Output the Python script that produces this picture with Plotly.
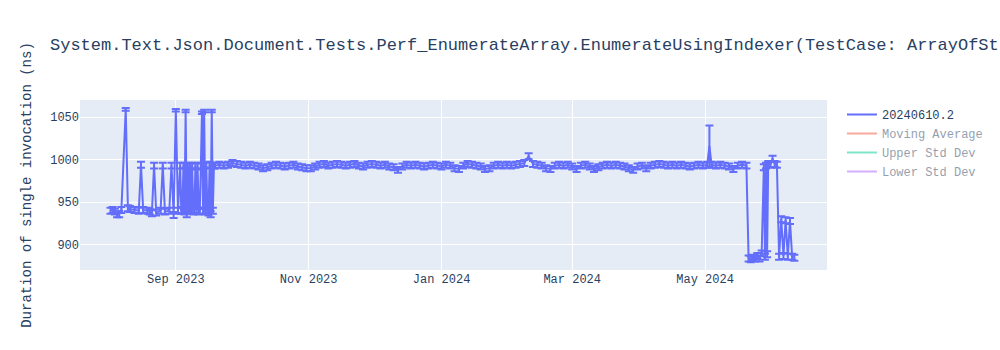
import plotly.graph_objects as go
import pandas as pd

# ---- data ----
early_dates = [
    "2023-08-02", "2023-08-03", "2023-08-04", "2023-08-05", "2023-08-06", "2023-08-07",
    "2023-08-09", "2023-08-10", "2023-08-11", "2023-08-13", "2023-08-15", "2023-08-16",
    "2023-08-17", "2023-08-19", "2023-08-20", "2023-08-21", "2023-08-22", "2023-08-23",
    "2023-08-25", "2023-08-26", "2023-08-27", "2023-08-29", "2023-08-30", "2023-08-31",
    "2023-09-01", "2023-09-02",
    "2023-09-03 00:00", "2023-09-03 12:00", "2023-09-04 00:00", "2023-09-04 12:00",
    "2023-09-05 00:00", "2023-09-05 12:00", "2023-09-06 00:00", "2023-09-06 12:00",
    "2023-09-07 00:00", "2023-09-07 12:00", "2023-09-08 00:00", "2023-09-08 12:00",
    "2023-09-09 00:00", "2023-09-09 12:00", "2023-09-10 00:00", "2023-09-10 12:00",
    "2023-09-11 00:00", "2023-09-11 12:00", "2023-09-12 00:00", "2023-09-12 12:00",
    "2023-09-13 00:00", "2023-09-13 12:00", "2023-09-14 00:00", "2023-09-14 12:00",
    "2023-09-15 00:00", "2023-09-15 12:00", "2023-09-16 00:00", "2023-09-16 12:00",
    "2023-09-17 00:00", "2023-09-17 12:00", "2023-09-18 00:00", "2023-09-18 12:00",
]
early_values = [
    940, 941, 939, 936, 936, 941,
    1059, 943, 942, 941, 940, 994,
    941, 940, 939, 937, 993, 938,
    940, 993, 939, 940, 993, 935,
    1058, 940,
    993, 940, 941, 993,
    939, 1057, 936, 993,
    940, 992, 941, 993,
    939, 940, 993, 941,
    992, 939, 940, 993,
    1055, 940, 1057, 939,
    993, 941, 938, 994,
    936, 1057, 940, 993,
]

mid_dates = [
    "2023-09-19", "2023-09-21", "2023-09-23", "2023-09-25", "2023-09-27", "2023-09-29",
    "2023-10-01", "2023-10-03", "2023-10-05", "2023-10-07", "2023-10-09", "2023-10-11",
    "2023-10-13", "2023-10-15", "2023-10-17", "2023-10-19", "2023-10-21", "2023-10-23",
    "2023-10-25", "2023-10-27", "2023-10-29", "2023-10-31",
    "2023-11-02", "2023-11-04", "2023-11-06", "2023-11-08", "2023-11-10", "2023-11-12",
    "2023-11-14", "2023-11-16", "2023-11-18", "2023-11-20", "2023-11-22", "2023-11-24",
    "2023-11-26", "2023-11-28", "2023-11-30",
    "2023-12-02", "2023-12-04", "2023-12-06", "2023-12-08", "2023-12-10", "2023-12-12",
    "2023-12-14", "2023-12-16", "2023-12-18", "2023-12-20", "2023-12-22", "2023-12-24",
    "2023-12-26", "2023-12-28", "2023-12-30",
    "2024-01-01", "2024-01-03", "2024-01-05", "2024-01-07", "2024-01-09", "2024-01-11",
    "2024-01-13", "2024-01-15", "2024-01-17", "2024-01-19", "2024-01-21", "2024-01-23",
    "2024-01-25", "2024-01-27", "2024-01-29", "2024-01-31",
    "2024-02-02", "2024-02-04", "2024-02-06", "2024-02-08", "2024-02-10", "2024-02-12",
    "2024-02-14", "2024-02-16", "2024-02-18", "2024-02-20", "2024-02-22", "2024-02-24",
    "2024-02-26", "2024-02-28",
    "2024-03-01", "2024-03-03", "2024-03-05", "2024-03-07", "2024-03-09", "2024-03-11",
    "2024-03-13", "2024-03-15", "2024-03-17", "2024-03-19", "2024-03-21", "2024-03-23",
    "2024-03-25", "2024-03-27", "2024-03-29", "2024-03-31",
    "2024-04-02", "2024-04-04", "2024-04-06", "2024-04-08", "2024-04-10", "2024-04-12",
    "2024-04-14", "2024-04-16", "2024-04-18", "2024-04-20", "2024-04-22", "2024-04-24",
    "2024-04-26", "2024-04-28", "2024-04-30",
    "2024-05-02", "2024-05-03", "2024-05-04", "2024-05-06", "2024-05-08", "2024-05-10",
    "2024-05-12", "2024-05-14", "2024-05-16", "2024-05-18", "2024-05-20",
]
mid_values = [
    993, 994, 993, 994, 996, 995,
    994, 993, 994, 993, 992, 990,
    991, 993, 994, 993, 992, 993,
    994, 992, 991, 990,
    990, 992, 994, 995, 993, 994,
    995, 994, 993, 994, 995, 993,
    992, 994, 995,
    994, 993, 994, 992, 991, 988,
    992, 994, 993, 994, 993, 992,
    993, 994, 993,
    992, 994, 993, 990, 989, 993,
    995, 994, 993, 992, 989, 990,
    993, 994, 993, 994,
    993, 994, 995, 996, 1004, 995,
    994, 993, 990, 989, 993, 994,
    993, 994,
    992, 989, 993, 994, 992, 989,
    991, 993, 994, 993, 994, 993,
    992, 990, 988, 992,
    993, 990, 993, 994, 995, 994,
    993, 994, 993, 994, 993, 992,
    993, 994, 993,
    994, 1016, 994, 993, 994, 993,
    992, 989, 993, 994, 993,
]

late_dates = [
    "2024-05-21", "2024-05-22", "2024-05-23", "2024-05-24", "2024-05-25", "2024-05-26",
    "2024-05-27", "2024-05-28 00:00", "2024-05-28 12:00", "2024-05-29 00:00",
    "2024-05-29 12:00", "2024-05-30", "2024-05-31", "2024-06-01", "2024-06-02",
    "2024-06-03", "2024-06-04", "2024-06-05", "2024-06-06", "2024-06-07",
    "2024-06-08", "2024-06-09", "2024-06-10", "2024-06-11",
]
late_values = [
    884, 883, 885, 884, 887, 884,
    890, 991, 886, 993,
    889, 995, 994, 1001, 995,
    994, 886, 930, 887, 929,
    886, 928, 886, 885,
]

default_error = 3.5
special_errors = {"2023-08-09": 1.5, "2023-09-01": 1.5, "2023-09-05 12:00": 1.5,
                  "2023-09-13 00:00": 1.5, "2023-09-14 00:00": 1.5,
                  "2023-09-17 12:00": 1.5, "2024-05-03": 24}

dates = early_dates + mid_dates + late_dates
durations = early_values + mid_values + late_values
errors = [special_errors.get(d, default_error) for d in dates]

build_name = "20240610.2"
title_text = ("System.Text.Json.Document.Tests.Perf_EnumerateArray."
              "EnumerateUsingIndexer(TestCase: ArrayOfStrings)")

s = pd.Series(durations, index=pd.to_datetime(dates, format="mixed"))
mov_avg = s.rolling(10, min_periods=1).mean()
mov_std = s.rolling(10, min_periods=1).std().fillna(0)

fig = go.Figure()
fig.add_trace(go.Scatter(
    x=s.index, y=s.values, mode="lines", name=build_name,
    line=dict(width=2),
    error_y=dict(type="data", array=errors, visible=True, thickness=2),
))
fig.add_trace(go.Scatter(x=s.index, y=mov_avg.values, mode="lines",
                         name="Moving Average", visible="legendonly"))
fig.add_trace(go.Scatter(x=s.index, y=(mov_avg + 2 * mov_std).values, mode="lines",
                         name="Upper Std Dev", visible="legendonly"))
fig.add_trace(go.Scatter(x=s.index, y=(mov_avg - 2 * mov_std).values, mode="lines",
                         name="Lower Std Dev", visible="legendonly"))

fig.update_layout(
    width=1000, height=350,
    template="plotly",
    font=dict(family="Courier New, Liberation Mono, monospace"),
    title=dict(text=title_text),
    yaxis=dict(title=dict(text="Duration of single invocation (ns)"),
               range=[870.5, 1070]),
    xaxis=dict(range=["2023-07-19", "2024-06-26"]),
)

fig.write_html("out.html")
